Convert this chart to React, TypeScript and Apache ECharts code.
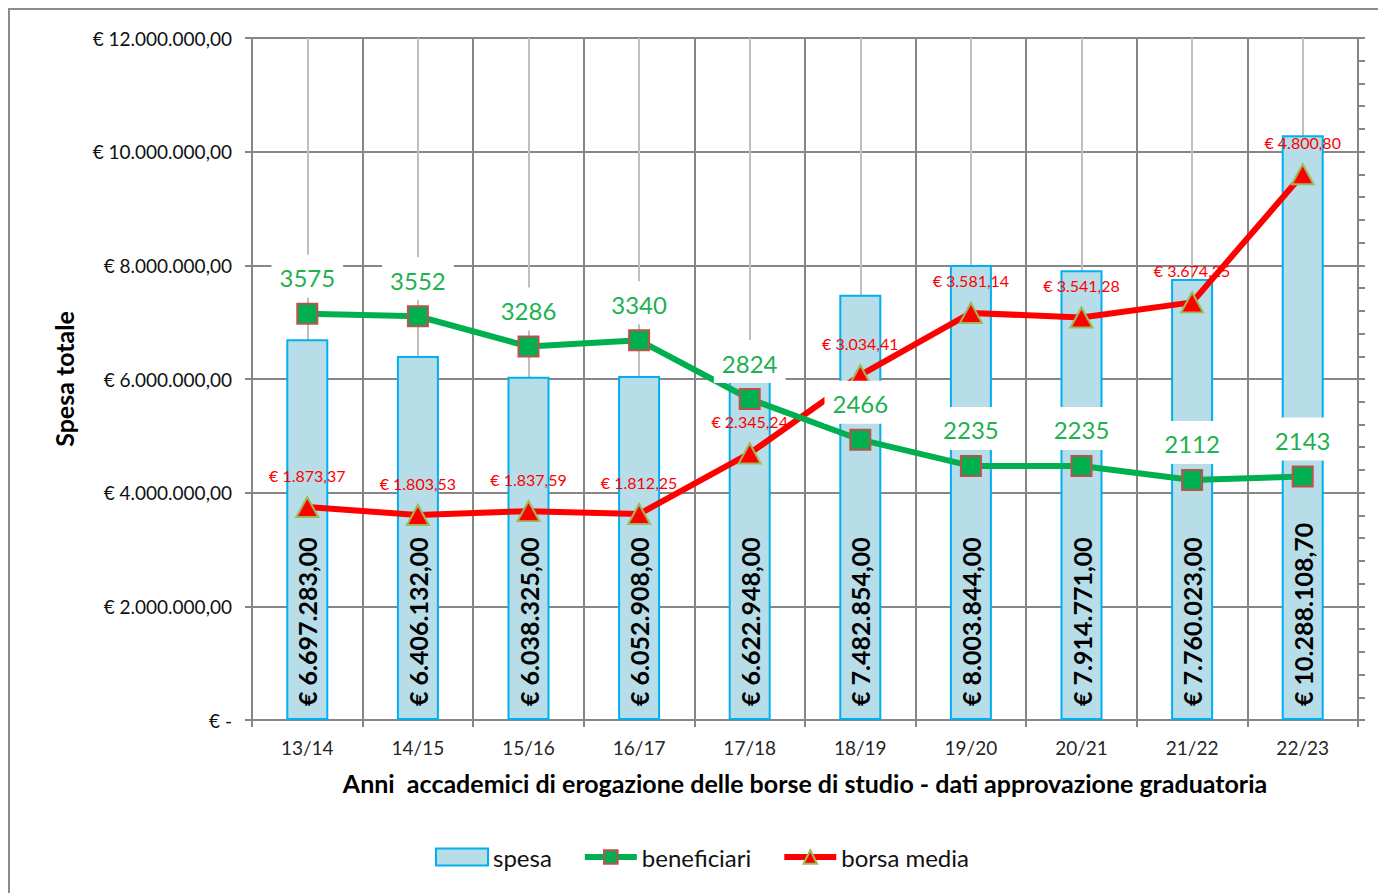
import React, { useEffect, useRef } from "react";
import * as echarts from "echarts";

const categories = ["13/14", "14/15", "15/16", "16/17", "17/18", "18/19", "19/20", "20/21", "21/22", "22/23"];
const spesa = [6697283.0, 6406132.0, 6038325.0, 6052908.0, 6622948.0, 7482854.0, 8003844.0, 7914771.0, 7760023.0, 10288108.7];
const beneficiari = [3575, 3552, 3286, 3340, 2824, 2466, 2235, 2235, 2112, 2143];
const borsaMedia = [1873.37, 1803.53, 1837.59, 1812.25, 2345.24, 3034.41, 3581.14, 3541.28, 3674.25, 4800.8];

const FONT = "Lato, 'Noto Sans', sans-serif";

function fmtIt(v: number, dec: number): string {
  const fixed = Math.abs(v).toFixed(dec);
  const [intPart, decPart] = fixed.split(".");
  const withDots = intPart.replace(/\B(?=(\d{3})+(?!\d))/g, ".");
  return (v < 0 ? "-" : "") + withDots + (decPart ? "," + decPart : "");
}

export default function App() {
  const ref = useRef<HTMLDivElement>(null);
  useEffect(() => {
    if (!ref.current) return;
    const chart = echarts.init(ref.current, undefined, { renderer: "svg" });
    const gridGray = "#868686";
    const halfCats = categories.flatMap((c) => [c + "-a", c + "-b"]);
    chart.setOption({
      animation: false,
      backgroundColor: "#fff",
      textStyle: { fontFamily: FONT },
      graphic: [
        {
          type: "rect",
          shape: { x: 9, y: 9, width: 1400, height: 900 },
          style: { fill: "none", stroke: "#8c8c8c", lineWidth: 2 },
          silent: true,
        },
      ],
      grid: { left: 252, right: 20, top: 38, bottom: 173, containLabel: false },
      legend: {
        left: 430,
        top: 840,
        itemWidth: 52,
        itemHeight: 17,
        itemGap: 30,
        lineStyle: { width: 6 },
        textStyle: { fontSize: 24, color: "#111", fontFamily: FONT },
        data: [{ name: "spesa", icon: "rect" }, { name: "beneficiari" }, { name: "borsa media" }],
      },
      xAxis: [
        {
          type: "category",
          data: categories,
          boundaryGap: true,
          axisLine: { show: true, lineStyle: { color: gridGray, width: 2 } },
          axisTick: { show: true, length: 7, lineStyle: { color: gridGray, width: 2 } },
          axisLabel: { fontSize: 19, color: "#262626", margin: 18, fontFamily: FONT },
          splitLine: { show: true, lineStyle: { color: gridGray, width: 2 } },
          name: "Anni  accademici di erogazione delle borse di studio - dati approvazione graduatoria",
          nameLocation: "middle",
          nameGap: 50,
          nameTextStyle: { fontSize: 25, fontWeight: "bold", color: "#000", fontFamily: FONT },
        },
        {
          type: "category",
          data: halfCats,
          boundaryGap: true,
          position: "bottom",
          axisLine: { show: false },
          axisTick: { show: false },
          axisLabel: { show: false },
          splitLine: {
            show: true,
            interval: (index: number) => index % 2 === 1,
            lineStyle: { color: "#BFBFBF", width: 2 },
          },
        },
      ],
      yAxis: [
        {
          type: "value",
          min: 0,
          max: 12000000,
          interval: 2000000,
          axisLine: { show: true, lineStyle: { color: gridGray, width: 2 } },
          axisTick: { show: true, length: 7, lineStyle: { color: gridGray, width: 2 } },
          axisLabel: {
            fontSize: 19,
            color: "#111",
            margin: 20,
            fontFamily: FONT,
            formatter: (v: number) => (v === 0 ? "€ -" : "€ " + fmtIt(v, 2)),
          },
          splitLine: { show: true, lineStyle: { color: gridGray, width: 2 } },
          name: "Spesa totale",
          nameLocation: "middle",
          nameGap: 176,
          nameTextStyle: { fontSize: 25, fontWeight: "bold", color: "#000", fontFamily: FONT },
        },
        {
          type: "value",
          min: 0,
          max: 6000,
          interval: 1000,
          position: "right",
          axisLine: { show: true, lineStyle: { color: gridGray, width: 2 } },
          axisTick: { show: true, length: 7, lineStyle: { color: gridGray, width: 2 } },
          minorTick: { show: true, splitNumber: 5, length: 7, lineStyle: { color: gridGray, width: 2 } },
          axisLabel: { show: false },
          splitLine: { show: false },
        },
      ],
      series: [
        {
          name: "spesa",
          type: "bar",
          xAxisIndex: 0,
          yAxisIndex: 0,
          data: spesa,
          barWidth: 42,
          z: 2,
          itemStyle: { color: "#B7DDE8", borderColor: "#00B0F0", borderWidth: 2 },
          label: {
            show: true,
            position: "insideBottom",
            rotate: 90,
            align: "left",
            verticalAlign: "middle",
            distance: 14,
            fontSize: 25,
            fontWeight: "bold",
            color: "#000",
            fontFamily: FONT,
            formatter: (p: any) => "€ " + fmtIt(p.value, 2),
          },
        },
        {
          name: "borsa media",
          type: "line",
          xAxisIndex: 0,
          yAxisIndex: 1,
          data: borsaMedia,
          z: 3,
          symbol: "triangle",
          symbolSize: [22, 20],
          lineStyle: { color: "#FF0000", width: 6 },
          itemStyle: { color: "#FF0000", borderColor: "#9BBB59", borderWidth: 2 },
          label: {
            show: true,
            position: "top",
            distance: 13,
            fontSize: 16,
            color: "#FF0000",
            fontFamily: FONT,
            formatter: (p: any) => "€ " + fmtIt(p.value, 2),
          },
        },
        {
          name: "beneficiari",
          type: "line",
          xAxisIndex: 0,
          yAxisIndex: 1,
          data: beneficiari,
          z: 4,
          symbol: "rect",
          symbolSize: 20,
          lineStyle: { color: "#00B050", width: 6 },
          itemStyle: { color: "#00B050", borderColor: "#C0504D", borderWidth: 2 },
          label: {
            show: true,
            position: "top",
            distance: 5,
            fontSize: 24,
            color: "#1DB150",
            fontFamily: FONT,
            backgroundColor: "#fff",
            padding: [11, 8, 8, 8],
          },
        },
      ],
    });
    return () => chart.dispose();
  }, []);
  return (
    <div
      ref={ref}
      style={{ position: "absolute", left: 0, top: 0, width: 1378, height: 893 }}
    />
  );
}
